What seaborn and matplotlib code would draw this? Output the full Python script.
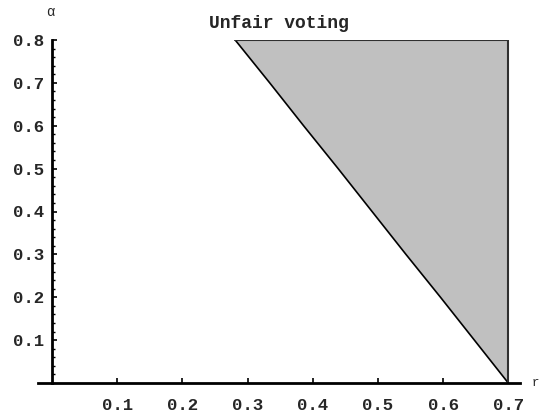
import numpy as np
import pandas as pd
import seaborn as sns
import matplotlib
matplotlib.use("Agg")
import matplotlib.pyplot as plt
from matplotlib.ticker import MultipleLocator

# boundary of the shaded region
alpha_vals = [0.8, 0.7, 0.6, 0.5, 0.4, 0.3, 0.2, 0.1, 0.0]
r_boundary = [0.281, 0.334, 0.386, 0.439, 0.491, 0.543, 0.596, 0.648, 0.700]
r_max = 0.7
alpha_max = 0.8

x_ticks = [0.1, 0.2, 0.3, 0.4, 0.5, 0.6, 0.7]
y_ticks = [0.1, 0.2, 0.3, 0.4, 0.5, 0.6, 0.7, 0.8]

df = pd.DataFrame({"r": r_boundary, "alpha": alpha_vals})

sns.set_style("white")
plt.rcParams['font.family'] = ['Liberation Mono', 'DejaVu Sans']

W, H = 541, 416
fig = plt.figure(figsize=(W/100, H/100), dpi=100)
ax = fig.add_axes([38/W, 1-383/H, (520-38)/W, (383-40)/H])

ax.fill_betweenx(df["alpha"], df["r"], r_max, color="#c0c0c0", linewidth=0)
sns.lineplot(data=df, x="r", y="alpha", sort=False, color="black", linewidth=1.2, ax=ax)
ax.plot([r_boundary[0], r_max, r_max], [alpha_max, alpha_max, 0], color="#303030", linewidth=1.5)

ax.set_xlim(-0.0215, 0.718)
ax.set_ylim(0, 0.8)
ax.spines['left'].set_position(('data', 0))
ax.spines['top'].set_visible(False)
ax.spines['right'].set_visible(False)
for s in ['left', 'bottom']:
    ax.spines[s].set_linewidth(2.0)
    ax.spines[s].set_color("black")

ax.set_xticks(x_ticks)
ax.set_yticks(y_ticks)
ax.yaxis.set_minor_locator(MultipleLocator(0.02))
ax.set_xticklabels([f"{v:g}" for v in x_ticks], fontsize=12.5, fontweight='bold')
ax.set_yticklabels([f"{v:g}" for v in y_ticks], fontsize=12.5, fontweight='bold')
ax.tick_params(axis='both', which='both', bottom=True, left=True, top=False, right=False)
ax.tick_params(axis='both', which='major', direction='in', length=3.5, width=1.2, color='black')
ax.tick_params(axis='both', which='minor', direction='in', length=2, width=1, color='black')
ax.tick_params(axis='x', which='major', pad=11)
ax.tick_params(axis='y', which='major', pad=6)
ax.set_xlabel("")
ax.set_ylabel("")

ax.set_title("Unfair voting", fontsize=13, fontweight='bold', pad=9)
fig.text(50/W, 1-12/H, "α", fontsize=10, ha='center', va='center')
fig.text(532/W, 1-383/H, "r", fontsize=9, ha='left', va='center')

fig.savefig("out.png", dpi=100)
